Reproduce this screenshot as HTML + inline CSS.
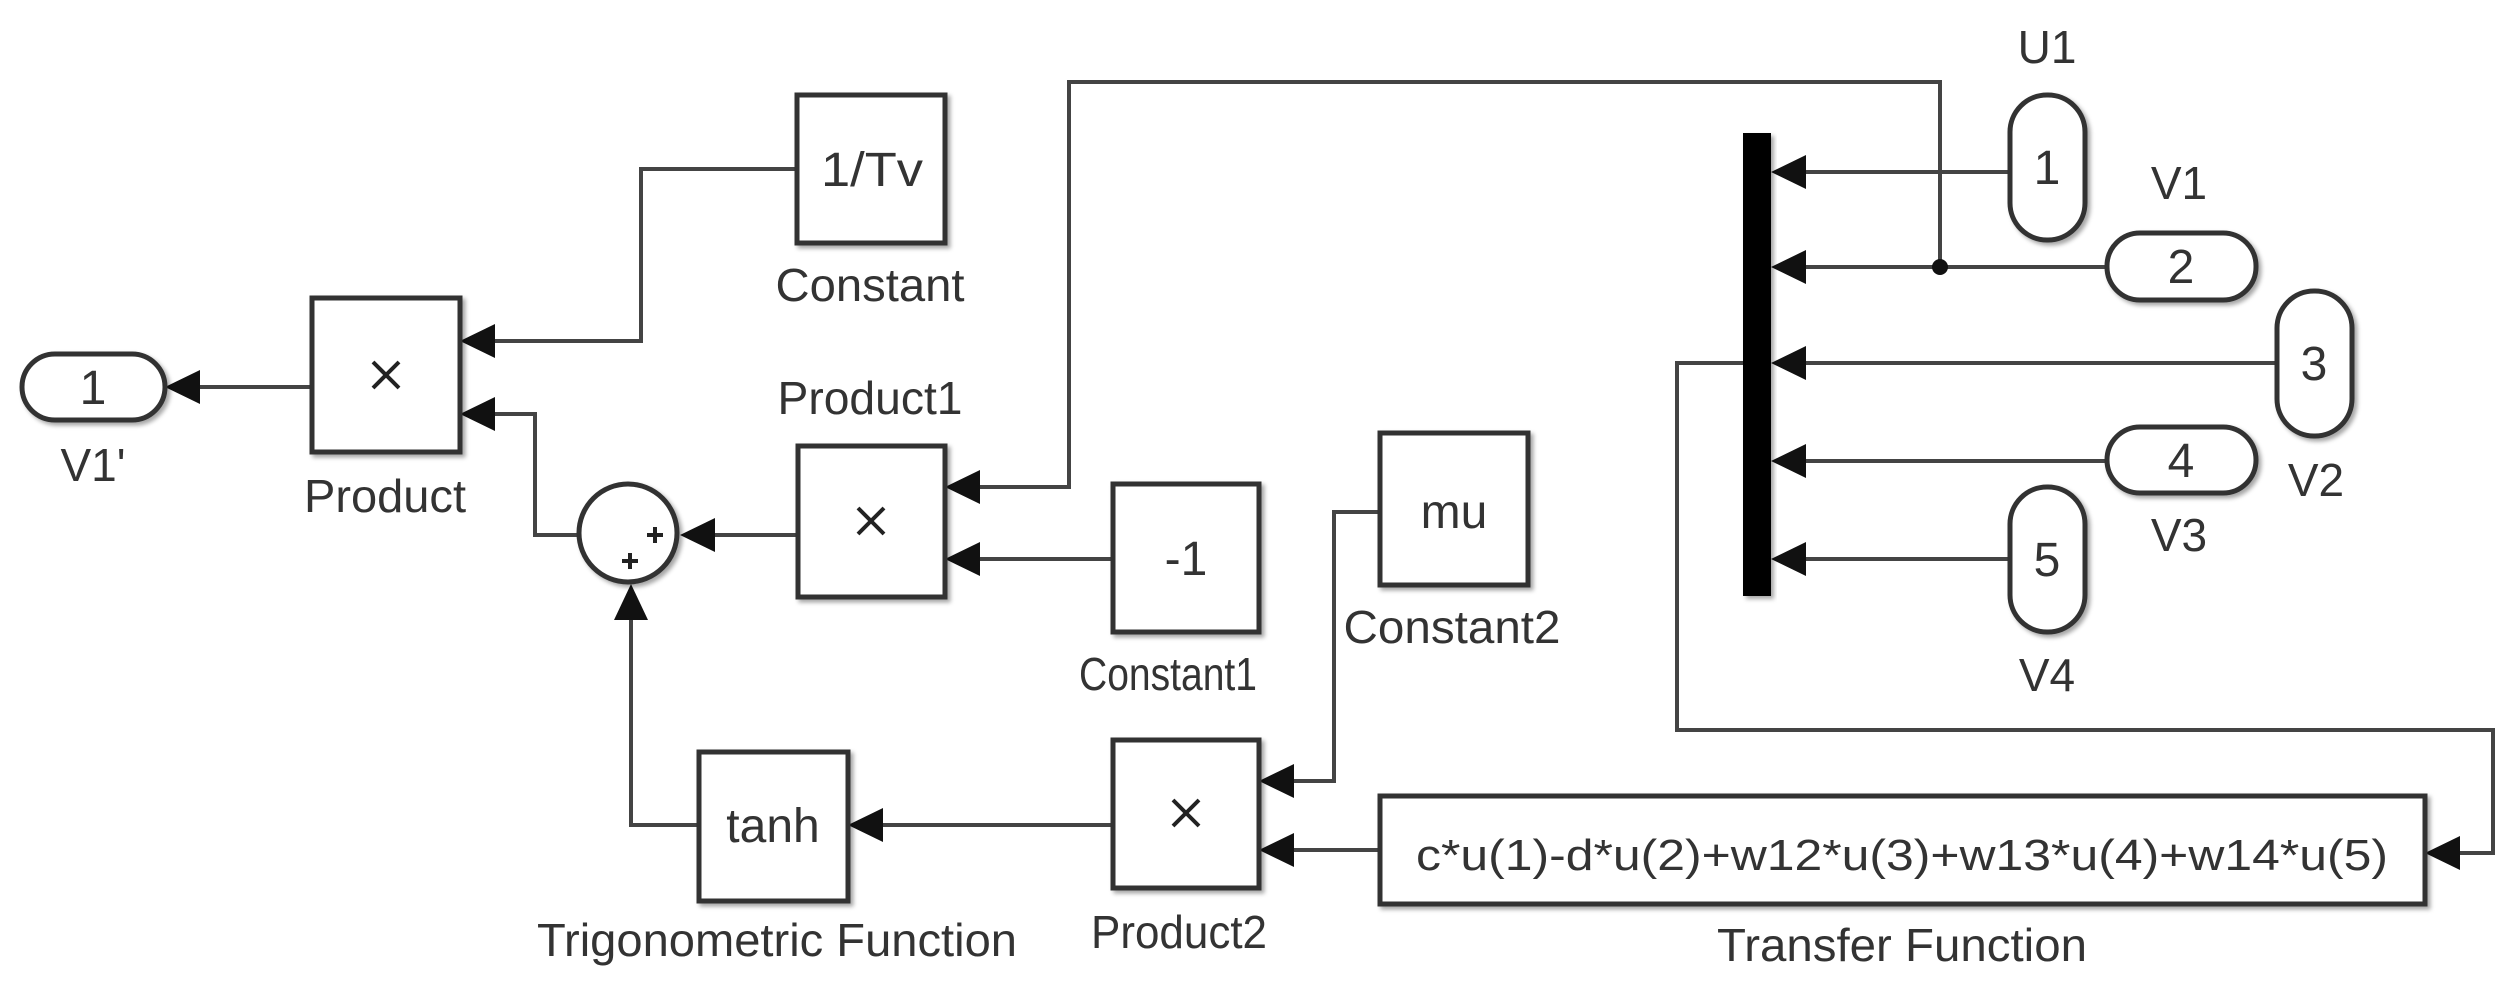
<!DOCTYPE html>
<html><head><meta charset="utf-8"><style>
html,body{margin:0;padding:0;background:#fff;}
svg{display:block;}
text{font-family:"Liberation Sans",Arial,sans-serif;fill:#333;}
</style></head><body>
<svg width="2515" height="991" viewBox="0 0 2515 991" xmlns="http://www.w3.org/2000/svg">
<defs>
<filter id="sh" x="-10%" y="-10%" width="130%" height="130%"><feDropShadow dx="3" dy="3" stdDeviation="2" flood-color="#000" flood-opacity="0.35"/></filter>
</defs>
<g stroke="#444" stroke-width="4" fill="none">
<polyline points="312,387 200,387"/>
<polyline points="797,169 641,169 641,341 490,341"/>
<polyline points="580,535 535,535 535,414 490,414"/>
<polyline points="798,535 715,535"/>
<polyline points="978,487 1069,487 1069,82 1940,82 1940,267"/>
<polyline points="1113,559 978,559"/>
<polyline points="699,825 631,825 631,618"/>
<polyline points="1113,825 880,825"/>
<polyline points="1380,512 1334,512 1334,781 1292,781"/>
<polyline points="1380,850 1292,850"/>
<polyline points="1743,363 1677,363 1677,730 2493,730 2493,853 2460,853"/>
<polyline points="2010,172 1804,172"/>
<polyline points="2107,267 1804,267"/>
<polyline points="2277,363 1804,363"/>
<polyline points="2107,461 1804,461"/>
<polyline points="2010,559 1804,559"/>
</g>
<circle cx="1940" cy="267" r="8" fill="#111"/>
<g fill="#111">
<polygon points="165,387 200,370 200,404"/>
<polygon points="460,341 495,324 495,358"/>
<polygon points="460,414 495,397 495,431"/>
<polygon points="680,535 715,518 715,552"/>
<polygon points="945,487 980,470 980,504"/>
<polygon points="945,559 980,542 980,576"/>
<polygon points="631,584 614,620 648,620"/>
<polygon points="848,825 883,808 883,842"/>
<polygon points="1259,781 1294,764 1294,798"/>
<polygon points="1259,850 1294,833 1294,867"/>
<polygon points="2425,853 2460,836 2460,870"/>
<polygon points="1771,172 1806,155 1806,189"/>
<polygon points="1771,267 1806,250 1806,284"/>
<polygon points="1771,363 1806,346 1806,380"/>
<polygon points="1771,461 1806,444 1806,478"/>
<polygon points="1771,559 1806,542 1806,576"/>
</g>
<rect x="1743" y="133" width="28" height="463" fill="#000" filter="url(#sh)"/>
<g fill="#fff" stroke="#333" stroke-width="5" filter="url(#sh)">
<rect x="22" y="354" width="143" height="66" rx="33"/>
<rect x="312" y="298" width="148" height="154"/>
<rect x="797" y="95" width="148" height="148"/>
<rect x="798" y="446" width="147" height="151"/>
<circle cx="628" cy="533" r="49"/>
<rect x="1113" y="484" width="146" height="148"/>
<rect x="1380" y="433" width="148" height="152"/>
<rect x="699" y="752" width="149" height="149"/>
<rect x="1113" y="740" width="146" height="148"/>
<rect x="1380" y="796" width="1045" height="108"/>
<rect x="2010" y="95" width="75" height="145" rx="37"/>
<rect x="2107" y="233" width="149" height="67" rx="33"/>
<rect x="2277" y="291" width="75" height="145" rx="37"/>
<rect x="2107" y="427" width="149" height="66" rx="33"/>
<rect x="2010" y="487" width="75" height="145" rx="37"/>
</g>
<g stroke="#222" stroke-width="4">
<line x1="647" y1="535" x2="663" y2="535"/><line x1="655" y1="527" x2="655" y2="543"/>
<line x1="622" y1="561" x2="638" y2="561"/><line x1="630" y1="553" x2="630" y2="569"/>
</g>
<g stroke="#222" stroke-width="4">
<line x1="373" y1="362" x2="399" y2="388"/><line x1="399" y1="362" x2="373" y2="388"/>
<line x1="858" y1="508" x2="884" y2="534"/><line x1="884" y1="508" x2="858" y2="534"/>
<line x1="1173" y1="800" x2="1199" y2="826"/><line x1="1199" y1="800" x2="1173" y2="826"/>
</g>
<g font-size="48" text-anchor="middle">
<text x="93" y="404">1</text>
<text x="872" y="186" textLength="102" lengthAdjust="spacingAndGlyphs">1/Tv</text>
<text x="1186" y="575">-1</text>
<text x="1454" y="528">mu</text>
<text x="773" y="842">tanh</text>
<text x="2047" y="184">1</text>
<text x="2181" y="283">2</text>
<text x="2314" y="380">3</text>
<text x="2181" y="477">4</text>
<text x="2047" y="576">5</text>
</g>
<text x="1902" y="870" font-size="44" text-anchor="middle" textLength="972" lengthAdjust="spacingAndGlyphs">c*u(1)-d*u(2)+w12*u(3)+w13*u(4)+w14*u(5)</text>
<g font-size="46" text-anchor="middle">
<text x="93" y="481">V1'</text>
<text x="385" y="512" textLength="162" lengthAdjust="spacingAndGlyphs">Product</text>
<text x="870" y="301" textLength="189" lengthAdjust="spacingAndGlyphs">Constant</text>
<text x="870" y="414" textLength="185" lengthAdjust="spacingAndGlyphs">Product1</text>
<text x="1168" y="690" textLength="178" lengthAdjust="spacingAndGlyphs">Constant1</text>
<text x="1452" y="643" textLength="217" lengthAdjust="spacingAndGlyphs">Constant2</text>
<text x="777" y="956" textLength="480" lengthAdjust="spacingAndGlyphs">Trigonometric Function</text>
<text x="1179" y="948" textLength="176" lengthAdjust="spacingAndGlyphs">Product2</text>
<text x="1902" y="961" textLength="370" lengthAdjust="spacingAndGlyphs">Transfer Function</text>
<text x="2047" y="63">U1</text>
<text x="2179" y="199">V1</text>
<text x="2316" y="496">V2</text>
<text x="2179" y="551">V3</text>
<text x="2047" y="691">V4</text>
</g>
</svg>
</body></html>
